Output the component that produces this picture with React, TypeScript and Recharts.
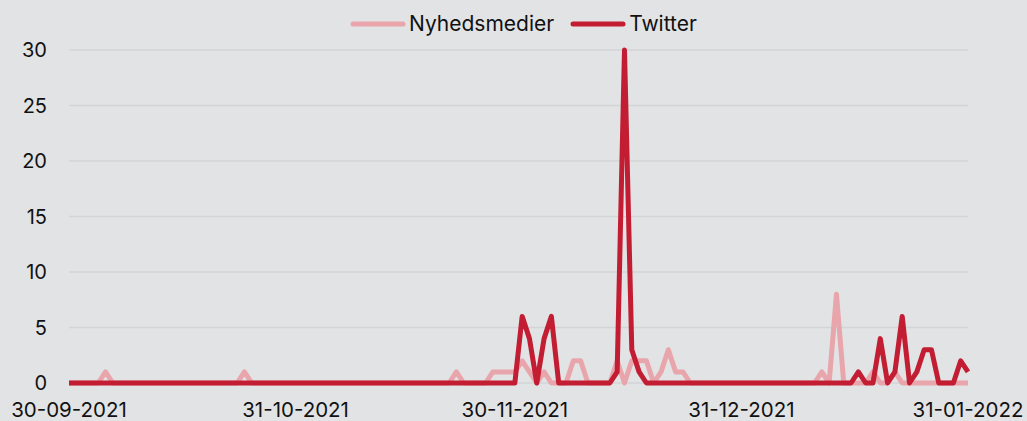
import React from "react";
import { LineChart, Line, XAxis, YAxis, CartesianGrid, Legend } from "recharts";

// day index 0 = 30-09-2021 ... 123 = 31-01-2022
const nyhedsmedier: number[] = [
  0, 0, 0, 0, 0, 1, 0, 0, 0, 0, // 0-9
  0, 0, 0, 0, 0, 0, 0, 0, 0, 0, // 10-19
  0, 0, 0, 0, 1, 0, 0, 0, 0, 0, // 20-29
  0, 0, 0, 0, 0, 0, 0, 0, 0, 0, // 30-39
  0, 0, 0, 0, 0, 0, 0, 0, 0, 0, // 40-49
  0, 0, 0, 1, 0, 0, 0, 0, 1, 1, // 50-59
  1, 1, 2, 1, 0, 1, 0, 0, 0, 2, // 60-69
  2, 0, 0, 0, 0, 2, 0, 2, 2, 2, // 70-79
  0, 1, 3, 1, 1, 0, 0, 0, 0, 0, // 80-89
  0, 0, 0, 0, 0, 0, 0, 0, 0, 0, // 90-99
  0, 0, 0, 1, 0, 8, 0, 0, 0, 0, // 100-109
  1, 0, 0, 1, 0, 0, 0, 0, 0, 0, // 110-119
  0, 0, 0, 0, // 120-123
];

const twitter: number[] = [
  0, 0, 0, 0, 0, 0, 0, 0, 0, 0,
  0, 0, 0, 0, 0, 0, 0, 0, 0, 0,
  0, 0, 0, 0, 0, 0, 0, 0, 0, 0,
  0, 0, 0, 0, 0, 0, 0, 0, 0, 0,
  0, 0, 0, 0, 0, 0, 0, 0, 0, 0,
  0, 0, 0, 0, 0, 0, 0, 0, 0, 0,
  0, 0, 6, 4, 0, 4, 6, 0, 0, 0,
  0, 0, 0, 0, 0, 1, 30, 3, 1, 0,
  0, 0, 0, 0, 0, 0, 0, 0, 0, 0,
  0, 0, 0, 0, 0, 0, 0, 0, 0, 0,
  0, 0, 0, 0, 0, 0, 0, 0, 1, 0,
  0, 4, 0, 1, 6, 0, 1, 3, 3, 0,
  0, 0, 2, 1,
];

const tickDays: number[] = [0, 31, 61, 92, 123];
const tickLabels: string[] = ["30-09-2021", "31-10-2021", "30-11-2021", "31-12-2021", "31-01-2022"];
const yTicks: number[] = [0, 5, 10, 15, 20, 25, 30];

const seriesNames = ["Nyhedsmedier", "Twitter"];
const seriesColors = ["#e8a6ac", "#c21d32"];

const data = nyhedsmedier.map((v, i) => ({ day: i, n: v, t: twitter[i] }));

const FONT = "Inter, 'Noto Sans', sans-serif";

const LegendContent = () => (
  <div style={{ display: "flex", alignItems: "center", fontFamily: FONT, fontSize: 21, color: "#111" }}>
    {seriesNames.map((name, i) => (
      <div key={name} style={{ display: "flex", alignItems: "center", marginRight: 16 }}>
        <svg width={56} height={10} style={{ marginRight: 3 }}>
          <line x1={3} y1={5} x2={53} y2={5} stroke={seriesColors[i]} strokeWidth={5} strokeLinecap="round" />
        </svg>
        <span>{name}</span>
      </div>
    ))}
  </div>
);

export default function App() {
  return (
    <div style={{ position: "absolute", left: 0, top: 0, width: 1027, height: 421, background: "#e2e3e5" }}>
      <LineChart width={1027} height={421} data={data} margin={{ top: 50, right: 59, bottom: 0, left: 0 }}>
        <CartesianGrid stroke="#d3d4d6" strokeWidth={1.5} vertical={false} />
        <XAxis
          dataKey="day"
          type="number"
          domain={[0, 123]}
          ticks={tickDays}
          tickFormatter={(v: number) => tickLabels[tickDays.indexOf(v)] ?? ""}
          axisLine={false}
          tickLine={false}
          height={38}
          tickMargin={13}
          interval={0}
          tick={{ fill: "#111", fontSize: 20.5, fontFamily: FONT }}
        />
        <YAxis
          domain={[0, 30]}
          ticks={yTicks}
          axisLine={false}
          tickLine={false}
          width={69}
          tickMargin={16}
          tick={{ fill: "#111", fontSize: 20, fontFamily: FONT }}
        />
        <Legend
          verticalAlign="top"
          content={<LegendContent />}
          wrapperStyle={{ top: 11, left: 350, width: "auto", height: 0, overflow: "visible" }}
        />
        <Line
          type="linear"
          dataKey="n"
          name={seriesNames[0]}
          stroke={seriesColors[0]}
          strokeWidth={5}
          dot={false}
          strokeLinejoin="round"
          isAnimationActive={false}
        />
        <Line
          type="linear"
          dataKey="t"
          name={seriesNames[1]}
          stroke={seriesColors[1]}
          strokeWidth={5}
          dot={false}
          strokeLinejoin="round"
          isAnimationActive={false}
        />
      </LineChart>
    </div>
  );
}
